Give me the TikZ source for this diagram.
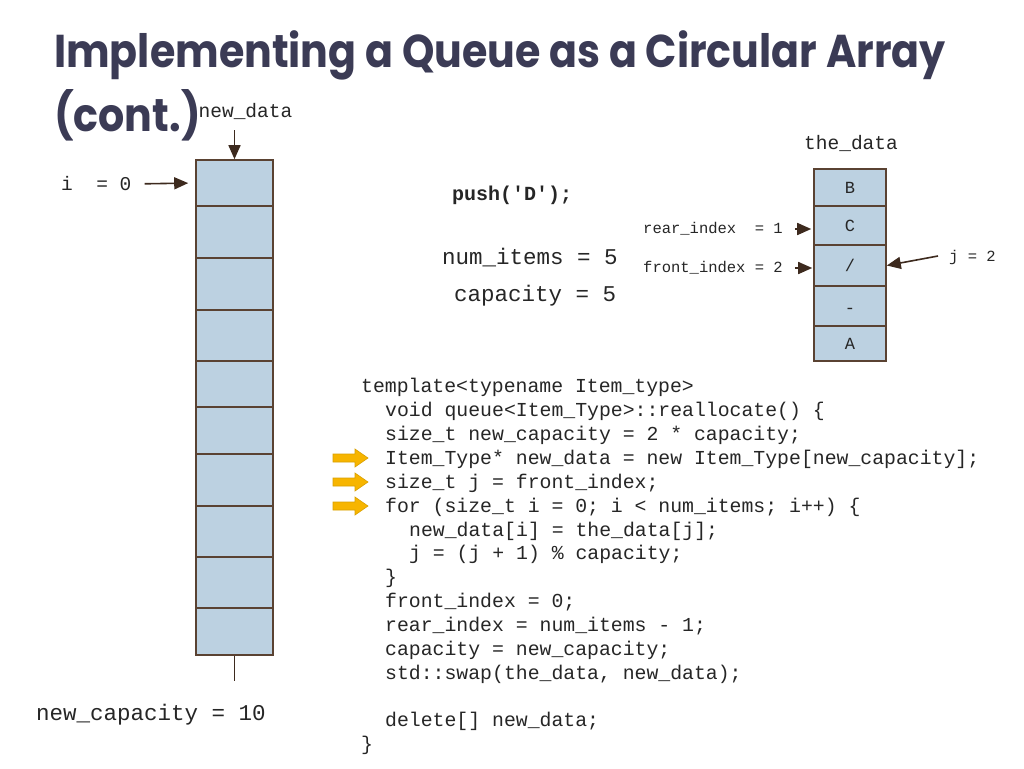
\documentclass[tikz,border=0pt]{standalone}
\usepackage{fontspec}
\setmonofont{Liberation Mono}
\newfontfamily\titlefont{Poppins}
\usetikzlibrary{arrows.meta}
\definecolor{titlec}{HTML}{3B3B55}
\definecolor{cellfill}{HTML}{BCD1E1}
\definecolor{cellline}{HTML}{5A4232}
\definecolor{arrc}{HTML}{3D2A1E}
\definecolor{ylw}{HTML}{F7B500}
\definecolor{ylwd}{HTML}{D9A000}
\definecolor{txt}{HTML}{262626}
\tikzset{
  cellL/.style={draw=cellline, fill=cellfill, line width=1.6pt, minimum width=77pt, inner sep=0pt, anchor=center},
  cellR/.style={draw=cellline, fill=cellfill, line width=1.6pt, minimum width=72pt, inner sep=0pt, anchor=center, font=\fontsize{17}{17}\selectfont\ttfamily, text=txt},
  arr/.style={draw=arrc, line width=1.6pt, -{Triangle[length=14pt,width=12pt]}},
  codeln/.style={anchor=base west, inner sep=0pt, font=\fontsize{19.8}{20}\selectfont\ttfamily, text=txt},
  small/.style={inner sep=0pt, font=\fontsize{15.5}{16}\selectfont\ttfamily, text=txt},
  lbl/.style={inner sep=0pt, font=\fontsize{19.5}{20}\selectfont\ttfamily, text=txt},
  mid/.style={inner sep=0pt, font=\fontsize{22.5}{23}\selectfont\ttfamily, text=txt},
  ttl/.style={anchor=base west, inner sep=0pt, text=titlec, font=\fontsize{46}{46}\selectfont\titlefont\bfseries},
  yarrow/.style={fill=ylw, draw=ylwd, line width=0.6pt},
}
\begin{document}
\begin{tikzpicture}[x=1pt,y=-1pt]
\useasboundingbox[fill=white] (0,0) rectangle (1024,768);
% title
\node[ttl] (t1) at (54,67) {\scalebox{0.895}[1]{Implementing a Queue as a Circular Array}};
\node[ttl] (t2) at (54,131) {\scalebox{0.895}[1]{(cont.)}};
% left array
\node[cellL, minimum height=46pt] (L1) at (234.5,183) {};
\node[cellL, minimum height=52pt] (L2) at (234.5,232) {};
\node[cellL, minimum height=52pt] (L3) at (234.5,284) {};
\node[cellL, minimum height=51pt] (L4) at (234.5,335.5) {};
\node[cellL, minimum height=46pt] (L5) at (234.5,384) {};
\node[cellL, minimum height=47pt] (L6) at (234.5,430.5) {};
\node[cellL, minimum height=52pt] (L7) at (234.5,480) {};
\node[cellL, minimum height=51pt] (L8) at (234.5,531.5) {};
\node[cellL, minimum height=51pt] (L9) at (234.5,582.5) {};
\node[cellL, minimum height=47pt] (L10) at (234.5,631.5) {};
\coordinate (Lend) at (234.5,681);
\draw[draw=arrc, line width=1.2pt] (L10.south) -- (Lend);
\node[lbl] (nd) at (245.5,111) {new\_data};
\coordinate (ndtail) at (234.5,130);
\draw[arr] (ndtail) -- (L1.north);
\node[lbl, anchor=west] (i0) at (61,184) {i~~=~0};
\draw[arr, shorten <=13pt, shorten >=7pt] (i0.east) -- (L1.west);
\node[mid, anchor=west] (nc) at (36,715) {new\_capacity = 10};
% right array
\node[lbl] (td) at (851,143) {the\_data};
\node[cellR, minimum height=37pt] (R1) at (850,187.5) {B};
\node[cellR, minimum height=39pt] (R2) at (850,225.5) {C};
\node[cellR, minimum height=41pt] (R3) at (850,265.5) {/};
\node[cellR, minimum height=40pt, text depth=0pt] (R4) at (850,306) {\raisebox{-7pt}{-}};
\node[cellR, minimum height=35pt] (R5) at (850,343.5) {A};
\node[small, anchor=west] (ri) at (643,229) {rear\_index~~=~1};
\node[small, anchor=west] (fi) at (643,268) {front\_index~=~2};
\draw[arr, shorten <=12pt, shorten >=2pt] (ri.east) -- (ri.east -| R2.west);
\draw[arr, shorten <=12pt, shorten >=1pt] (fi.east) -- (fi.east -| R3.west);
\node[small, anchor=west] (j2) at (949,257) {j~=~2};
\coordinate (jtail) at (938,256);
\draw[arr] (jtail) -- (R3.east);
% middle labels
\node[mid, font=\fontsize{20}{20}\selectfont\ttfamily\bfseries, anchor=west] (push) at (452,195) {push(\symbol{39}D\symbol{39});};
\node[mid, anchor=west] (ni) at (442,258) {num\_items = 5};
\node[mid, anchor=west] (cap) at (454,296) {capacity = 5};
% code
\node[codeln] (c1) at (361,392) {template<typename Item\_type>};
\node[codeln] (c2) at (385,416) {void queue<Item\_Type>::reallocate() \{};
\node[codeln] (c3) at (385,440) {size\_t new\_capacity = 2 * capacity;};
\node[codeln] (c4) at (385,464) {Item\_Type* new\_data = new Item\_Type[new\_capacity];};
\node[codeln] (c5) at (385,488) {size\_t j = front\_index;};
\node[codeln] (c6) at (385,512) {for (size\_t i = 0; i < num\_items; i++) \{};
\node[codeln] (c7) at (409,536) {new\_data[i] = the\_data[j];};
\node[codeln] (c8) at (409,559) {j = (j + 1) \% capacity;};
\node[codeln] (c9) at (385,583) {\}};
\node[codeln] (c10) at (385,607) {front\_index = 0;};
\node[codeln] (c11) at (385,631) {rear\_index = num\_items - 1;};
\node[codeln] (c12) at (385,655) {capacity = new\_capacity;};
\node[codeln] (c13) at (385,679) {std::swap(the\_data, new\_data);};
\node[codeln] (c14) at (385,726) {delete[] new\_data;};
\node[codeln] (c15) at (361,750) {\}};
% yellow arrows
\foreach \yy in {458,482,506}{
  \draw[yarrow] (333,\yy-4) -- (355,\yy-4) -- (355,\yy-9) -- (368,\yy) -- (355,\yy+9) -- (355,\yy+4) -- (333,\yy+4) -- cycle;
}
\end{tikzpicture}
\end{document}
